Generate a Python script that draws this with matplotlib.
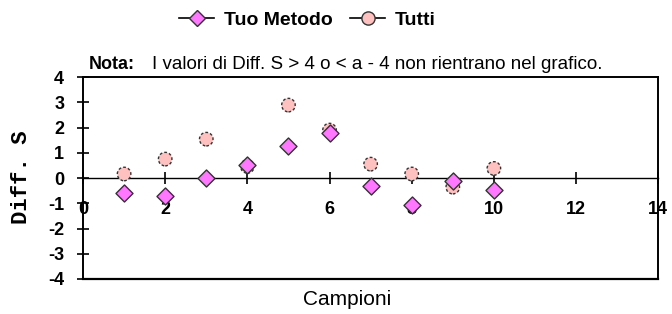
import matplotlib.pyplot as plt
from matplotlib.lines import Line2D

plt.rcParams['axes.unicode_minus'] = False

# data
campioni = [1, 2, 3, 4, 5, 6, 7, 8, 9, 10]
tuo_metodo = [-0.61, -0.73, 0.0, 0.51, 1.25, 1.78, -0.33, -1.06, -0.13, -0.46]
tutti = [0.16, 0.75, 1.54, 0.46, 2.89, 1.9, 0.55, 0.16, -0.36, 0.38]
x_ticks = [0, 2, 4, 6, 8, 10, 12, 14]
y_ticks = [-4, -3, -2, -1, 0, 1, 2, 3, 4]

pink = '#FFC0C0'
violet = '#FF77FF'
edge = '#333333'

fig = plt.figure(figsize=(6.72, 3.14), dpi=100)
ax = fig.add_axes([0.1235, 0.1115, 0.856, 0.643])

ax.scatter(campioni, tutti, s=95, marker='o', facecolor=pink,
           edgecolor=edge, linewidths=1.0, linestyles=(0, (2, 1.5)), zorder=3)
ax.scatter(campioni, tuo_metodo, s=75, marker='D', facecolor=violet,
           edgecolor=edge, linewidths=1.0, zorder=4)

ax.set_xlim(0, 14)
ax.set_ylim(-4, 4)
ax.set_xticks(x_ticks)
ax.set_yticks(y_ticks)

# x axis runs through zero, box kept around the plot
ax.spines['bottom'].set_position(('data', 0))
ax.axhline(-4, color='k', lw=1.6, clip_on=False, zorder=5)
for s in ax.spines.values():
    s.set_linewidth(1.4)
ax.spines['bottom'].set_linewidth(1.0)

ax.tick_params(axis='x', direction='inout', length=9, width=1.2, pad=12)
ax.tick_params(axis='y', direction='inout', length=9, width=1.2, pad=9)
for lab in ax.get_xticklabels() + ax.get_yticklabels():
    lab.set_fontweight('bold')
    lab.set_fontsize(13)
    lab.set_family('Liberation Sans')

fig.text(0.032, 0.436, 'Diff. S', rotation=90, ha='center', va='center',
         family='Liberation Mono', fontweight='bold', fontsize=16)
fig.text(0.516, 0.045, 'Campioni', ha='center', va='center',
         family='Liberation Sans', fontsize=15)

fig.text(0.201, 0.796, 'Nota:', fontweight='bold', family='Liberation Sans',
         fontsize=13, va='center', ha='right')
fig.text(0.226, 0.796, 'I valori di Diff. S > 4 o < a - 4 non rientrano nel grafico.',
         family='Liberation Sans', fontsize=13.5, va='center')

handles = [
    Line2D([], [], color='k', lw=1.2, marker='D', markersize=8.5,
           markerfacecolor=violet, markeredgecolor=edge),
    Line2D([], [], color='k', lw=1.2, marker='o', markersize=9.5,
           markerfacecolor=pink, markeredgecolor=edge),
]
fig.legend(handles, ['Tuo Metodo', 'Tutti'], loc='center', bbox_to_anchor=(0.458, 0.936),
           ncol=2, frameon=False, handlelength=1.8, columnspacing=0.9, handletextpad=0.5,
           borderpad=0, prop={'family': 'Liberation Sans', 'weight': 'bold', 'size': 14})

fig.savefig('out.png', dpi=100)
